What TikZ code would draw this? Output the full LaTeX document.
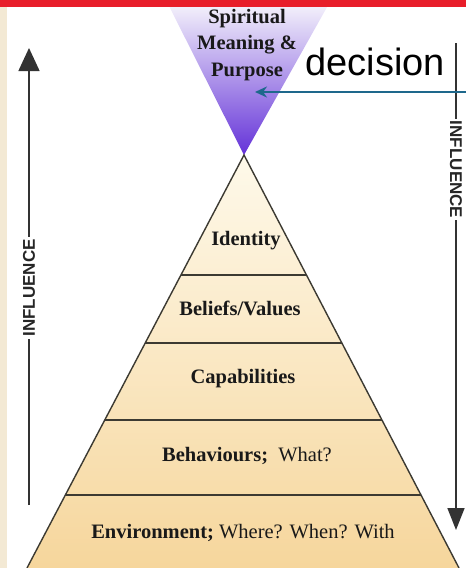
\documentclass[tikz,border=0pt]{standalone}
\usepackage{fontspec}
\setmainfont{Liberation Serif}
\setsansfont{Liberation Sans}
\usepackage{tikz}
\usetikzlibrary{arrows.meta, positioning, calc}
\definecolor{bannerred}{RGB}{232, 30, 42}
\definecolor{sidebeige}{RGB}{243, 233, 212}
\definecolor{levellight}{RGB}{254, 249, 234}
\definecolor{leveldark}{RGB}{246, 214, 156}
\definecolor{spiritpurple}{RGB}{100, 50, 216}
\definecolor{spiritpale}{RGB}{248, 247, 252}
\definecolor{decisionteal}{RGB}{30, 104, 140}
\definecolor{sidegray}{RGB}{60, 58, 50}

\begin{document}
\begin{tikzpicture}[x=1pt, y=-1pt,
  level/.style={font=\fontsize{20.5}{26.5}\selectfont\bfseries, text=black!90},
  influence/.style={font=\sffamily\bfseries\fontsize{17}{17}\selectfont,
                    text=black!85, fill=white, inner sep=2pt},
  pyrside/.style={draw=sidegray, line width=1.4pt},
  divider/.style={draw=sidegray, line width=2pt},
  bigarrow/.style={-{Triangle[length=23pt, width=21pt]}, line width=1.5pt, draw=black!80}
]
\useasboundingbox (0,0) rectangle (466,568);

% Spiritual cone
\coordinate (apex) at (244,155);
\shade[top color=spiritpale, bottom color=spiritpurple] (166,0) -- (331,0) -- (apex) -- cycle;
\node[level, align=center] (spirit) at (247,45) {Spiritual\\Meaning \&\\Purpose};

% Pyramid
\coordinate (bl) at (27,568);
\coordinate (br) at (459,568);
\shade[top color=levellight, bottom color=leveldark] (apex) -- (br) -- (bl) -- cycle;
\draw[pyrside] (bl) -- (apex) -- (br);
\foreach \t in {0.2906,0.4552,0.6416,0.8232}
  \draw[divider] ($(apex)!\t!(bl)$) -- ($(apex)!\t!(br)$);

% Levels
\node[level] (identity) at (246,241) {Identity};
\node[level] (beliefs) at (240,308) {Beliefs/Values};
\node[level] (capab) at (243,379) {Capabilities};
\node[level] (behav) at (247,456) {Behaviours;\ \ \mdseries What?};
\node[level] (environ) at (243,533) {Environment;\ \mdseries Where? When? With};

% Influence arrows
\coordinate (lup) at (29,48);
\coordinate (ldown) at (29,505);
\draw[bigarrow] (ldown) -- (lup) node[pos=0.475, rotate=90, influence] {INFLUENCE};
\coordinate (rtop) at (456,43);
\coordinate (rbot) at (456,530);
\draw[bigarrow, -{Triangle[length=22pt, width=17pt]}] (rtop) -- (rbot)
  node[pos=0.26, rotate=-90, influence] {INFLUENCE};

% Decision pointer
\node[font=\sffamily\fontsize{38}{38}\selectfont, anchor=base west] (decision) at (302,75) {decision};
\coordinate (decfrom) at (466,92);
\coordinate (purposept) at (255,92);
\draw[-{Stealth[length=12pt, width=11pt]}, decisionteal, line width=2pt] (decfrom) -- (purposept);

% Frame
\fill[bannerred] (0,0) rectangle (466,7);
\fill[sidebeige] (0,7) rectangle (7,568);

\end{tikzpicture}
\end{document}
